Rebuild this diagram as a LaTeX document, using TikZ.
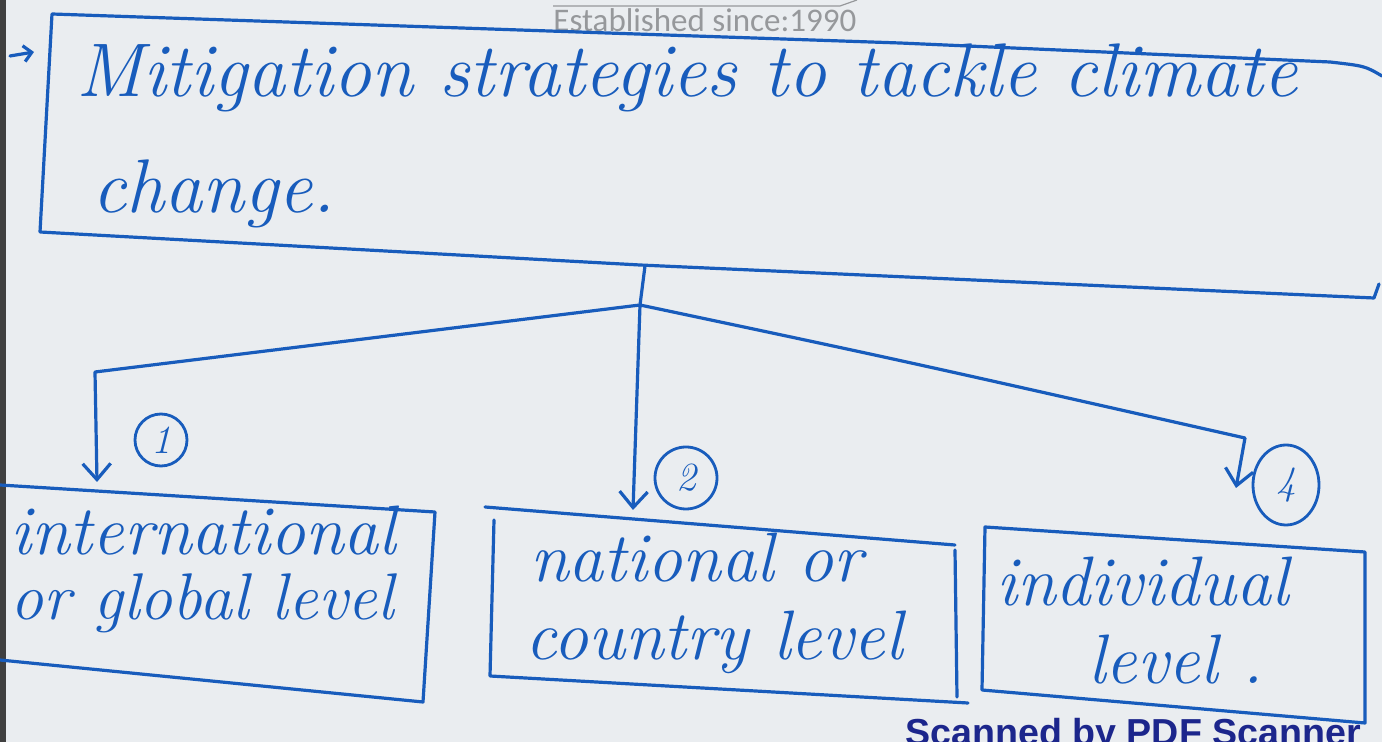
\documentclass[tikz,border=0pt]{standalone}
\usepackage{fontspec}
\usetikzlibrary{arrows.meta, shapes.geometric}
\newfontfamily\stampfont{Carlito}
\newfontfamily\scanfont{Liberation Sans}
\definecolor{pen}{RGB}{24,92,188}
\definecolor{paper}{RGB}{234,237,240}
\definecolor{stamp}{RGB}{150,152,155}
\definecolor{scan}{RGB}{28,38,140}

\begin{document}
\begin{tikzpicture}[x=0.5pt, y=-0.5pt,
	ink/.style={draw=pen, line width=1.6pt, line join=round, line cap=round},
	hand/.style={text=pen, inner sep=0pt, font=\fontsize{35}{40}\selectfont\itshape},
	num/.style={circle, draw=pen, line width=1.4pt, text=pen, inner sep=0pt, font=\fontsize{20}{22}\selectfont\itshape},
	barb/.style={-{Straight Barb[length=8pt, width=14pt]}}]
	% page
	\fill[paper] (0,0) rectangle (1382,742);
	\useasboundingbox (0,0) rectangle (1382,742);
	\fill[black!75] (0,0) rectangle (6,742);
	\draw[stamp, line width=0.6pt] (553,6) -- (840,6) -- (857,0);
	\node[anchor=base west, inner sep=0pt, text=stamp, font=\fontsize{16.5}{18}\stampfont] (stamp) at (553,32) {Established since:1990};

	% main box
	\draw[ink] (1382,76) .. controls (1365,66) .. (1330,62) -- (900,43) -- (52,14) -- (40,232) -- (640,265) -- (1374,298) -- (1379,284);
	\coordinate (arrfrom) at (10,56);
	\coordinate (arrto) at (34,52);
	\draw[ink, -{Straight Barb[length=4pt, width=8pt]}] (arrfrom) -- (arrto);
	\node[hand, anchor=base west, font=\fontsize{38}{40}\selectfont\itshape] (titleA) at (76,97) {Mitigation strategies to tackle climate};
	\node[hand, anchor=base west, font=\fontsize{38}{40}\selectfont\itshape] (titleB) at (92,213) {change.};

	% tree
	\coordinate (trunk) at (645,266);
	\coordinate (junc) at (640,305);
	\coordinate (lbend) at (95,372);
	\coordinate (rbend) at (1245,438);
	\coordinate (intlin) at (97,482);
	\coordinate (natin) at (633,510);
	\coordinate (indin) at (1236,488);
	\draw[ink] (trunk) -- (junc);
	\draw[ink, barb] (junc) -- (lbend) -- (intlin);
	\draw[ink, barb] (junc) -- (natin);
	\draw[ink, barb] (junc) .. controls (900,360) .. (rbend) -- (indin);
	\node[num, minimum size=26pt] (one) at (161,440) {1};
	\node[num, minimum size=31pt] (two) at (686,478) {2};
	\node[num, ellipse, minimum width=33pt, minimum height=40pt] (four) at (1286,485) {4};

	% level boxes
	\draw[ink] (0,485) -- (435,512) -- (423,702) -- (0,660);
	\node[hand, anchor=base west] (intlA) at (10,555) {international};
	\node[hand, anchor=base west, font=\fontsize{33}{40}\selectfont\itshape] (intlB) at (10,620) {or global level};

	\draw[ink] (485,507) -- (955,545);
	\draw[ink] (494,520) -- (490,676) -- (968,703);
	\draw[ink] (955,550) -- (957,697);
	\node[hand, anchor=base west] (natA) at (530,582) {national or};
	\node[hand, anchor=base west] (natB) at (525,660) {country level};

	\draw[ink] (1365,552) -- (985,527) -- (982,690) -- (1365,723) -- cycle;
	\node[hand, anchor=base west] (indA) at (996,606) {individual};
	\node[hand, anchor=base west] (indB) at (1088,684) {level .};

	% scanner mark
	\node[anchor=base west, inner sep=0pt, text=scan, font=\fontsize{18.8}{20}\scanfont\bfseries] (scanmark) at (905,746) {Scanned by PDF Scanner};
\end{tikzpicture}
\end{document}
